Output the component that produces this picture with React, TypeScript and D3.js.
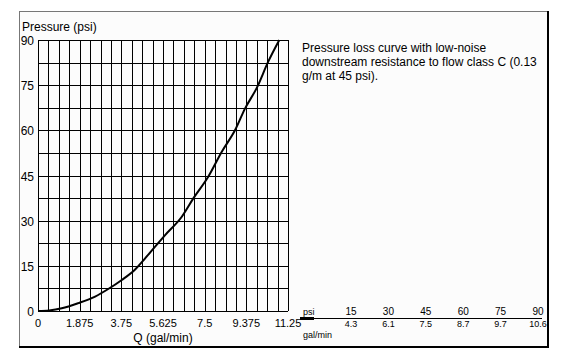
import React from "react";
import * as d3 from "d3";

const flowQ = [0, 0.5, 1.07, 1.81, 2.57, 3.16, 3.77, 4.37, 4.82, 5.27, 5.72, 6.47, 6.99, 7.66, 8.27, 8.87, 9.32, 9.84, 10.36, 10.86];
const pressureP = [0, 0.2, 0.9, 2.6, 4.8, 7.3, 10.3, 13.8, 17.5, 21.4, 25.2, 31.3, 37.4, 44.6, 52.9, 60.1, 67.3, 74.0, 82.8, 90];

const xTickLabels = ["0", "1.875", "3.75", "5.625", "7.5", "9.375", "11.25"];
const yTickLabels = ["0", "15", "30", "45", "60", "75", "90"];
const xGridCount = 24;
const yGridCount = 12;

const tablePsi = ["15", "30", "45", "60", "75", "90"];
const tableFlow = ["4.3", "6.1", "7.5", "8.7", "9.7", "10.6"];

const noteLines = [
  "Pressure loss curve with low-noise",
  "downstream resistance to flow class C (0.13",
  "g/m at 45 psi).",
];

const W = 564;
const H = 361;
const FONT = "Liberation Sans, Arial, sans-serif";

export default function App() {
  const x = d3.scaleLinear().domain([0, 11.25]).range([38, 288]);
  const y = d3.scaleLinear().domain([0, 90]).range([311, 40]);
  const crisp = (v: number) => Math.round(v) + 0.5;

  const xGrid = d3.range(xGridCount + 1).map((i) => (i * 11.25) / xGridCount);
  const yGrid = d3.range(yGridCount + 1).map((i) => (i * 90) / yGridCount);

  const pts = flowQ.map((q, i) => [q, pressureP[i]] as [number, number]);
  const line = d3
    .line<[number, number]>()
    .x((d) => x(d[0]))
    .y((d) => y(d[1]))
    .curve(d3.curveMonotoneX);

  const tx = d3.scalePoint<string>().domain(tablePsi).range([351, 538]);

  return (
    <svg
      width={W}
      height={H}
      style={{ position: "absolute", left: 0, top: 0, background: "#fff" }}
      fontFamily={FONT}
    >
      {/* frame */}
      <rect x={19.5} y={11.5} width={528} height={335} fill="#fcfcfc" stroke="#777" strokeWidth={1} />
      <line x1={548} y1={11} x2={548} y2={348} stroke="#000" strokeWidth={2} />
      <line x1={19} y1={347} x2={549} y2={347} stroke="#000" strokeWidth={2} />

      {/* grid */}
      <g stroke="#000" strokeWidth={1}>
        {xGrid.map((g, i) => (
          <line key={"vx" + i} x1={crisp(x(g))} x2={crisp(x(g))} y1={y(90)} y2={y(0)} />
        ))}
        {yGrid.map((g, i) => (
          <line key={"hy" + i} y1={crisp(y(g))} y2={crisp(y(g))} x1={x(0)} x2={x(11.25)} />
        ))}
      </g>

      {/* curve */}
      <path d={line(pts) || ""} fill="none" stroke="#000" strokeWidth={2} strokeLinejoin="round" />

      {/* axis titles */}
      <text x={22} y={31} fontSize={12} fill="#000">Pressure (psi)</text>
      <text x={163} y={342} fontSize={12} fill="#000" textAnchor="middle">Q  (gal/min)</text>

      {/* y tick labels */}
      {yTickLabels.map((t) => (
        <text key={"yt" + t} x={34} y={y(+t) + 5} fontSize={12} textAnchor="end" fill="#000">
          {t}
        </text>
      ))}

      {/* x tick labels */}
      {xTickLabels.map((t) => (
        <text key={"xt" + t} x={x(+t)} y={326.5} fontSize={11} textAnchor="middle" fill="#000">
          {t}
        </text>
      ))}

      {/* note */}
      {noteLines.map((l, i) => (
        <text key={"n" + i} x={302} y={52 + i * 14} fontSize={12} fill="#000">
          {l}
        </text>
      ))}

      {/* table */}
      <text x={303} y={315} fontSize={9} fill="#000">psi</text>
      <text x={303} y={338} fontSize={9} fill="#000">gal/min</text>
      <line x1={300} x2={542} y1={318.5} y2={318.5} stroke="#000" strokeWidth={1} />
      <line x1={300} x2={314} y1={318.5} y2={318.5} stroke="#000" strokeWidth={3} />
      {tablePsi.map((p, i) => (
        <g key={"tb" + p}>
          <text x={tx(p)} y={315} fontSize={10} textAnchor="middle" fill="#000">{p}</text>
          <text x={tx(p)} y={327} fontSize={9} textAnchor="middle" fill="#000">{tableFlow[i]}</text>
        </g>
      ))}
    </svg>
  );
}
